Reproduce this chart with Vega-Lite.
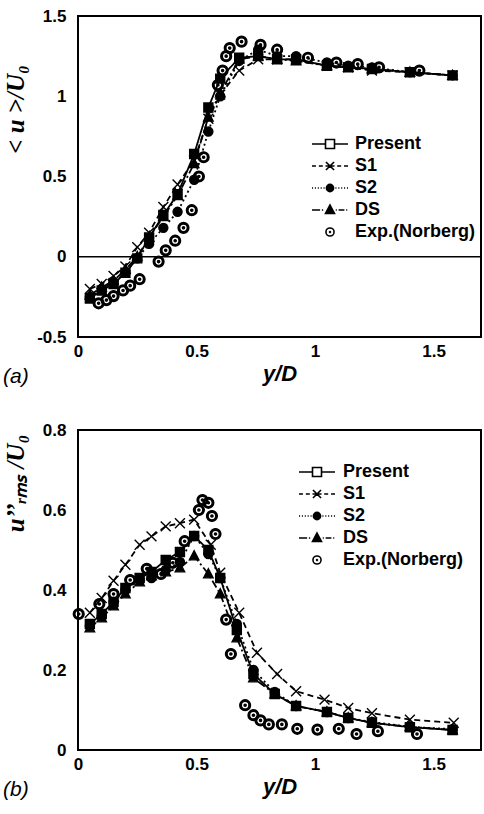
{
  "$schema": "https://vega.github.io/schema/vega-lite/v6.json",
  "background": "white",
  "padding": {"left": 2, "top": 6, "right": 0, "bottom": 0},
  "spacing": 32,
  "datasets": {
    "xt": [
      {"v":0.1,"k":"minor"},{"v":0.2,"k":"minor"},{"v":0.3,"k":"minor"},{"v":0.4,"k":"minor"},{"v":0.5,"k":"major"},{"v":0.6,"k":"minor"},{"v":0.7,"k":"minor"},{"v":0.8,"k":"minor"},{"v":0.9,"k":"minor"},{"v":1.0,"k":"major"},{"v":1.1,"k":"minor"},{"v":1.2,"k":"minor"},{"v":1.3,"k":"minor"},{"v":1.4,"k":"minor"},{"v":1.5,"k":"major"},{"v":1.6,"k":"minor"}
    ],
    "yta": [
      {"v":-0.4,"k":"minor"},{"v":-0.3,"k":"minor"},{"v":-0.2,"k":"minor"},{"v":-0.1,"k":"minor"},{"v":0.0,"k":"major"},{"v":0.1,"k":"minor"},{"v":0.2,"k":"minor"},{"v":0.3,"k":"minor"},{"v":0.4,"k":"minor"},{"v":0.5,"k":"major"},{"v":0.6,"k":"minor"},{"v":0.7,"k":"minor"},{"v":0.8,"k":"minor"},{"v":0.9,"k":"minor"},{"v":1.0,"k":"major"},{"v":1.1,"k":"minor"},{"v":1.2,"k":"minor"},{"v":1.3,"k":"minor"},{"v":1.4,"k":"minor"}
    ],
    "ytb": [
      {"v":0.05,"k":"minor"},{"v":0.1,"k":"minor"},{"v":0.15,"k":"minor"},{"v":0.2,"k":"major"},{"v":0.25,"k":"minor"},{"v":0.3,"k":"minor"},{"v":0.35,"k":"minor"},{"v":0.4,"k":"major"},{"v":0.45,"k":"minor"},{"v":0.5,"k":"minor"},{"v":0.55,"k":"minor"},{"v":0.6,"k":"major"},{"v":0.65,"k":"minor"},{"v":0.7,"k":"minor"},{"v":0.75,"k":"minor"}
    ],
    "mean": [
      {"s":"Present","x":0.05,"y":-0.26},{"s":"Present","x":0.10,"y":-0.21},{"s":"Present","x":0.15,"y":-0.17},{"s":"Present","x":0.20,"y":-0.10},{"s":"Present","x":0.25,"y":-0.01},{"s":"Present","x":0.30,"y":0.12},{"s":"Present","x":0.36,"y":0.26},{"s":"Present","x":0.42,"y":0.39},{"s":"Present","x":0.49,"y":0.64},{"s":"Present","x":0.55,"y":0.93},{"s":"Present","x":0.60,"y":1.11},{"s":"Present","x":0.68,"y":1.24},{"s":"Present","x":0.76,"y":1.25},{"s":"Present","x":0.84,"y":1.23},{"s":"Present","x":0.92,"y":1.23},{"s":"Present","x":1.05,"y":1.19},{"s":"Present","x":1.14,"y":1.18},{"s":"Present","x":1.24,"y":1.17},{"s":"Present","x":1.40,"y":1.15},{"s":"Present","x":1.58,"y":1.13},
      {"s":"S1","x":0.05,"y":-0.20},{"s":"S1","x":0.10,"y":-0.17},{"s":"S1","x":0.15,"y":-0.12},{"s":"S1","x":0.20,"y":-0.06},{"s":"S1","x":0.25,"y":0.06},{"s":"S1","x":0.30,"y":0.15},{"s":"S1","x":0.36,"y":0.31},{"s":"S1","x":0.42,"y":0.45},{"s":"S1","x":0.49,"y":0.60},{"s":"S1","x":0.55,"y":0.86},{"s":"S1","x":0.60,"y":1.01},{"s":"S1","x":0.68,"y":1.16},{"s":"S1","x":0.76,"y":1.23},{"s":"S1","x":0.84,"y":1.23},{"s":"S1","x":0.92,"y":1.23},{"s":"S1","x":1.05,"y":1.19},{"s":"S1","x":1.14,"y":1.18},{"s":"S1","x":1.24,"y":1.16},{"s":"S1","x":1.40,"y":1.15},{"s":"S1","x":1.58,"y":1.13},
      {"s":"S2","x":0.05,"y":-0.25},{"s":"S2","x":0.10,"y":-0.20},{"s":"S2","x":0.15,"y":-0.16},{"s":"S2","x":0.20,"y":-0.10},{"s":"S2","x":0.25,"y":-0.01},{"s":"S2","x":0.30,"y":0.08},{"s":"S2","x":0.36,"y":0.18},{"s":"S2","x":0.42,"y":0.28},{"s":"S2","x":0.49,"y":0.48},{"s":"S2","x":0.55,"y":0.78},{"s":"S2","x":0.60,"y":1.00},{"s":"S2","x":0.68,"y":1.22},{"s":"S2","x":0.76,"y":1.29},{"s":"S2","x":0.84,"y":1.25},{"s":"S2","x":0.92,"y":1.25},{"s":"S2","x":1.05,"y":1.21},{"s":"S2","x":1.14,"y":1.19},{"s":"S2","x":1.24,"y":1.18},{"s":"S2","x":1.40,"y":1.15},{"s":"S2","x":1.58,"y":1.13},
      {"s":"DS","x":0.05,"y":-0.24},{"s":"DS","x":0.10,"y":-0.19},{"s":"DS","x":0.15,"y":-0.15},{"s":"DS","x":0.20,"y":-0.08},{"s":"DS","x":0.25,"y":0.00},{"s":"DS","x":0.30,"y":0.12},{"s":"DS","x":0.36,"y":0.25},{"s":"DS","x":0.42,"y":0.38},{"s":"DS","x":0.49,"y":0.58},{"s":"DS","x":0.55,"y":0.87},{"s":"DS","x":0.60,"y":1.02},{"s":"DS","x":0.68,"y":1.23},{"s":"DS","x":0.76,"y":1.25},{"s":"DS","x":0.84,"y":1.23},{"s":"DS","x":0.92,"y":1.22},{"s":"DS","x":1.05,"y":1.19},{"s":"DS","x":1.14,"y":1.18},{"s":"DS","x":1.24,"y":1.17},{"s":"DS","x":1.40,"y":1.15},{"s":"DS","x":1.58,"y":1.13},
      {"s":"Exp.(Norberg)","x":0.087,"y":-0.29},{"s":"Exp.(Norberg)","x":0.12,"y":-0.27},{"s":"Exp.(Norberg)","x":0.15,"y":-0.245},{"s":"Exp.(Norberg)","x":0.19,"y":-0.21},{"s":"Exp.(Norberg)","x":0.22,"y":-0.18},{"s":"Exp.(Norberg)","x":0.26,"y":-0.14},{"s":"Exp.(Norberg)","x":0.34,"y":-0.03},{"s":"Exp.(Norberg)","x":0.37,"y":0.04},{"s":"Exp.(Norberg)","x":0.41,"y":0.10},{"s":"Exp.(Norberg)","x":0.445,"y":0.18},{"s":"Exp.(Norberg)","x":0.48,"y":0.29},{"s":"Exp.(Norberg)","x":0.51,"y":0.50},{"s":"Exp.(Norberg)","x":0.53,"y":0.62},{"s":"Exp.(Norberg)","x":0.59,"y":1.07},{"s":"Exp.(Norberg)","x":0.61,"y":1.16},{"s":"Exp.(Norberg)","x":0.625,"y":1.25},{"s":"Exp.(Norberg)","x":0.64,"y":1.30},{"s":"Exp.(Norberg)","x":0.69,"y":1.34},{"s":"Exp.(Norberg)","x":0.77,"y":1.32},{"s":"Exp.(Norberg)","x":0.84,"y":1.29},{"s":"Exp.(Norberg)","x":0.97,"y":1.24},{"s":"Exp.(Norberg)","x":1.09,"y":1.21},{"s":"Exp.(Norberg)","x":1.18,"y":1.20},{"s":"Exp.(Norberg)","x":1.27,"y":1.18},{"s":"Exp.(Norberg)","x":1.44,"y":1.16}
    ],
    "rms": [
      {"s":"Present","x":0.05,"y":0.315},{"s":"Present","x":0.10,"y":0.34},{"s":"Present","x":0.15,"y":0.37},{"s":"Present","x":0.20,"y":0.405},{"s":"Present","x":0.26,"y":0.43},{"s":"Present","x":0.31,"y":0.445},{"s":"Present","x":0.37,"y":0.475},{"s":"Present","x":0.43,"y":0.495},{"s":"Present","x":0.49,"y":0.535},{"s":"Present","x":0.55,"y":0.50},{"s":"Present","x":0.60,"y":0.43},{"s":"Present","x":0.67,"y":0.30},{"s":"Present","x":0.74,"y":0.19},{"s":"Present","x":0.83,"y":0.14},{"s":"Present","x":0.92,"y":0.11},{"s":"Present","x":1.05,"y":0.095},{"s":"Present","x":1.14,"y":0.08},{"s":"Present","x":1.24,"y":0.068},{"s":"Present","x":1.40,"y":0.057},{"s":"Present","x":1.58,"y":0.05},
      {"s":"S1","x":0.05,"y":0.343},{"s":"S1","x":0.10,"y":0.38},{"s":"S1","x":0.15,"y":0.423},{"s":"S1","x":0.20,"y":0.463},{"s":"S1","x":0.26,"y":0.513},{"s":"S1","x":0.31,"y":0.534},{"s":"S1","x":0.37,"y":0.559},{"s":"S1","x":0.43,"y":0.567},{"s":"S1","x":0.49,"y":0.576},{"s":"S1","x":0.56,"y":0.513},{"s":"S1","x":0.60,"y":0.443},{"s":"S1","x":0.68,"y":0.343},{"s":"S1","x":0.755,"y":0.243},{"s":"S1","x":0.84,"y":0.19},{"s":"S1","x":0.92,"y":0.147},{"s":"S1","x":1.04,"y":0.126},{"s":"S1","x":1.14,"y":0.105},{"s":"S1","x":1.24,"y":0.092},{"s":"S1","x":1.40,"y":0.076},{"s":"S1","x":1.585,"y":0.068},
      {"s":"S2","x":0.05,"y":0.31},{"s":"S2","x":0.10,"y":0.335},{"s":"S2","x":0.15,"y":0.37},{"s":"S2","x":0.20,"y":0.40},{"s":"S2","x":0.26,"y":0.425},{"s":"S2","x":0.31,"y":0.43},{"s":"S2","x":0.37,"y":0.45},{"s":"S2","x":0.43,"y":0.47},{"s":"S2","x":0.49,"y":0.535},{"s":"S2","x":0.55,"y":0.49},{"s":"S2","x":0.60,"y":0.43},{"s":"S2","x":0.67,"y":0.315},{"s":"S2","x":0.74,"y":0.20},{"s":"S2","x":0.83,"y":0.145},{"s":"S2","x":0.92,"y":0.11},{"s":"S2","x":1.05,"y":0.095},{"s":"S2","x":1.14,"y":0.08},{"s":"S2","x":1.24,"y":0.07},{"s":"S2","x":1.40,"y":0.058},{"s":"S2","x":1.58,"y":0.052},
      {"s":"DS","x":0.05,"y":0.305},{"s":"DS","x":0.10,"y":0.33},{"s":"DS","x":0.15,"y":0.36},{"s":"DS","x":0.20,"y":0.39},{"s":"DS","x":0.26,"y":0.42},{"s":"DS","x":0.31,"y":0.435},{"s":"DS","x":0.37,"y":0.445},{"s":"DS","x":0.43,"y":0.455},{"s":"DS","x":0.49,"y":0.485},{"s":"DS","x":0.55,"y":0.44},{"s":"DS","x":0.60,"y":0.39},{"s":"DS","x":0.67,"y":0.28},{"s":"DS","x":0.74,"y":0.18},{"s":"DS","x":0.83,"y":0.14},{"s":"DS","x":0.92,"y":0.11},{"s":"DS","x":1.05,"y":0.095},{"s":"DS","x":1.14,"y":0.08},{"s":"DS","x":1.24,"y":0.068},{"s":"DS","x":1.40,"y":0.058},{"s":"DS","x":1.58,"y":0.05},
      {"s":"Exp.(Norberg)","x":0.003,"y":0.34},{"s":"Exp.(Norberg)","x":0.09,"y":0.365},{"s":"Exp.(Norberg)","x":0.15,"y":0.39},{"s":"Exp.(Norberg)","x":0.22,"y":0.425},{"s":"Exp.(Norberg)","x":0.29,"y":0.453},{"s":"Exp.(Norberg)","x":0.35,"y":0.44},{"s":"Exp.(Norberg)","x":0.40,"y":0.468},{"s":"Exp.(Norberg)","x":0.45,"y":0.522},{"s":"Exp.(Norberg)","x":0.51,"y":0.60},{"s":"Exp.(Norberg)","x":0.525,"y":0.625},{"s":"Exp.(Norberg)","x":0.55,"y":0.618},{"s":"Exp.(Norberg)","x":0.565,"y":0.585},{"s":"Exp.(Norberg)","x":0.58,"y":0.54},{"s":"Exp.(Norberg)","x":0.625,"y":0.326},{"s":"Exp.(Norberg)","x":0.645,"y":0.24},{"s":"Exp.(Norberg)","x":0.705,"y":0.112},{"s":"Exp.(Norberg)","x":0.74,"y":0.087},{"s":"Exp.(Norberg)","x":0.77,"y":0.074},{"s":"Exp.(Norberg)","x":0.805,"y":0.064},{"s":"Exp.(Norberg)","x":0.86,"y":0.064},{"s":"Exp.(Norberg)","x":0.925,"y":0.053},{"s":"Exp.(Norberg)","x":1.01,"y":0.051},{"s":"Exp.(Norberg)","x":1.10,"y":0.053},{"s":"Exp.(Norberg)","x":1.175,"y":0.04},{"s":"Exp.(Norberg)","x":1.265,"y":0.047},{"s":"Exp.(Norberg)","x":1.43,"y":0.04}
    ]
  },
  "vconcat": [
    {
      "width": 403,
      "height": 321,
      "data": {"name": "mean"},
      "title": {"text": "(a)", "orient": "bottom", "anchor": "start", "frame": "bounds", "offset": -18, "fontSize": 21, "fontWeight": "normal", "fontStyle": "italic", "font": "Liberation Sans", "color": "black"},
      "layer": [
        {
          "data": {"values": [{"y": 0}]},
          "mark": {"type": "rule", "color": "black", "strokeWidth": 1.3},
          "encoding": {"y": {"field": "y", "type": "quantitative", "axis": null}}
        },
        {
          "data": {"name": "xt"},
          "mark": {"type": "tick", "orient": "horizontal", "clip": true, "color": "black", "thickness": 1.5, "opacity": 1},
          "encoding": {
            "x": {"field": "v", "type": "quantitative", "axis": null},
            "y": {"datum": -0.5, "type": "quantitative", "axis": null},
            "size": {"field": "k", "type": "nominal", "scale": {"domain": ["major", "minor"], "range": [18, 10]}, "legend": null}
          }
        },
        {
          "data": {"name": "xt"},
          "mark": {"type": "tick", "orient": "horizontal", "clip": true, "color": "black", "thickness": 1.5, "opacity": 1},
          "encoding": {
            "x": {"field": "v", "type": "quantitative", "axis": null},
            "y": {"datum": 1.5, "type": "quantitative", "axis": null},
            "size": {"field": "k", "type": "nominal", "scale": {"domain": ["major", "minor"], "range": [18, 10]}, "legend": null}
          }
        },
        {
          "data": {"name": "yta"},
          "mark": {"type": "tick", "orient": "vertical", "clip": true, "color": "black", "thickness": 1.5, "opacity": 1},
          "encoding": {
            "y": {"field": "v", "type": "quantitative", "axis": null},
            "x": {"datum": 0, "type": "quantitative", "axis": null},
            "size": {"field": "k", "type": "nominal", "scale": {"domain": ["major", "minor"], "range": [18, 10]}, "legend": null}
          }
        },
        {
          "data": {"name": "yta"},
          "mark": {"type": "tick", "orient": "vertical", "clip": true, "color": "black", "thickness": 1.5, "opacity": 1},
          "encoding": {
            "y": {"field": "v", "type": "quantitative", "axis": null},
            "x": {"datum": 1.7, "type": "quantitative", "axis": null},
            "size": {"field": "k", "type": "nominal", "scale": {"domain": ["major", "minor"], "range": [18, 10]}, "legend": null}
          }
        },
        {
          "transform": [{"filter": "datum.s !== 'Exp.(Norberg)'"}],
          "mark": {"type": "line", "color": "black", "strokeWidth": 1.8},
          "encoding": {
            "x": {"field": "x", "type": "quantitative", "scale": {"domain": [0, 1.7], "nice": false, "zero": false},
              "axis": {"orient": "bottom", "values": [0, 0.5, 1, 1.5], "format": ".1~f", "ticks": false, "tickSize": 0,
                "labelPadding": 6, "title": "y/D", "titleFont": "Liberation Sans", "titleFontStyle": "italic", "titleFontWeight": "bold", "titleFontSize": 22, "titlePadding": 4}},
            "y": {"field": "y", "type": "quantitative", "scale": {"domain": [-0.5, 1.5], "nice": false, "zero": false},
              "axis": {"orient": "left", "values": [-0.5, 0, 0.5, 1, 1.5], "ticks": false, "tickSize": 0,
                "labelExpr": "(datum.value<0?'-':'') + format(abs(datum.value),'.1~f')",
                "labelPadding": 12, "title": "< u >/U₀", "titleFont": "Liberation Serif", "titleFontStyle": "italic", "titleFontWeight": "bold", "titleFontSize": 25, "titleAngle": -90, "titleX": -63, "titleY": 93, "titleAlign": "center", "titleBaseline": "middle"}},
            "strokeDash": {"field": "s", "type": "nominal", "scale": {"domain": ["Present","S1","S2","DS"], "range": [[1,0],[6,4],[2,3],[8,3,2,3]]}, "legend": null}
          }
        },
        {
          "mark": {"type": "point", "filled": true, "fill": "black", "stroke": "black", "strokeWidth": 1.4, "opacity": 1, "size": 81},
          "encoding": {
            "x": {"field": "x", "type": "quantitative", "axis": null},
            "y": {"field": "y", "type": "quantitative", "axis": null},
            "shape": {"field": "s", "type": "nominal", "legend": null,
              "scale": {"domain": ["Present","S1","S2","DS","Exp.(Norberg)"],
                "range": ["M-1,-1H1V1H-1Z", "M-1.1,-1.1L1.1,1.1M-1.1,1.1L1.1,-1.1", "circle", "M0,-1.15L1.05,0.85H-1.05Z", "M-1.2,0A1.2,1.2,0,1,1,1.2,0A1.2,1.2,0,1,1,-1.2,0ZM-0.85,0A0.85,0.85,0,1,0,0.85,0A0.85,0.85,0,1,0,-0.85,0ZM-0.25,0A0.25,0.25,0,1,1,0.25,0A0.25,0.25,0,1,1,-0.25,0Z"]}}
          }
        },
        {
          "transform": [{"filter": "datum.x > 99"}],
          "mark": {"type": "point", "filled": false, "color": "black", "strokeWidth": 1.6, "opacity": 1, "size": 324},
          "encoding": {
            "x": {"field": "x", "type": "quantitative", "axis": null},
            "y": {"field": "y", "type": "quantitative", "axis": null},
            "shape": {"field": "s", "type": "nominal",
              "scale": {"domain": ["Present","S1","S2","DS","Exp.(Norberg)"],
                "range": [
                  "M-2,0H-0.5M0.5,0H2M-0.5,-0.5H0.5V0.5H-0.5Z",
                  "M-2,0H-1.56M-1.24,0H-0.8M0.8,0H1.24M1.56,0H2M-0.45,-0.45L0.45,0.45M-0.45,0.45L0.45,-0.45M-0.5,0H0.5",
                  "M-2,0H-1.88M-1.68,0H-1.56M-1.36,0H-1.24M-1.04,0H-0.92M-0.72,0H-0.6M0.6,0H0.72M0.92,0H1.04M1.24,0H1.36M1.56,0H1.68M1.88,0H2M-0.4,0A0.4,0.4,0,1,1,0.4,0A0.4,0.4,0,1,1,-0.4,0ZM-0.24,0A0.24,0.24,0,1,1,0.24,0A0.24,0.24,0,1,1,-0.24,0ZM-0.09,0A0.09,0.09,0,1,1,0.09,0A0.09,0.09,0,1,1,-0.09,0Z",
                  "M-2,0H-1.1M-0.9,0H-0.76M0.64,0H0.76M0.96,0H1.6M1.8,0H1.92M0,-0.55L0.5,0.38H-0.5ZM0,-0.3L0.28,0.22H-0.28ZM0,-0.05L0.07,0.08H-0.07Z",
                  "M-0.45,0A0.45,0.45,0,1,1,0.45,0A0.45,0.45,0,1,1,-0.45,0ZM-0.05,0A0.05,0.05,0,1,1,0.05,0A0.05,0.05,0,1,1,-0.05,0Z"
                ]},
              "legend": {"orient": "none", "legendX": 242, "legendY": 118, "title": null, "symbolSize": 324, "symbolStrokeWidth": 1.6, "symbolStrokeColor": "black", "symbolOpacity": 1, "labelFontSize": 18, "labelFontWeight": "bold", "labelFont": "Liberation Sans", "labelColor": "black", "labelOffset": 15, "rowPadding": 3}}
          }
        }
      ],
      "resolve": {"axis": {"x": "independent", "y": "independent"}, "scale": {"shape": "independent"}}
    },
    {
      "width": 403,
      "height": 320,
      "data": {"name": "rms"},
      "title": {"text": "(b)", "orient": "bottom", "anchor": "start", "frame": "bounds", "offset": -18, "fontSize": 21, "fontWeight": "normal", "fontStyle": "italic", "font": "Liberation Sans", "color": "black"},
      "layer": [
        {
          "data": {"name": "xt"},
          "mark": {"type": "tick", "orient": "horizontal", "clip": true, "color": "black", "thickness": 1.5, "opacity": 1},
          "encoding": {
            "x": {"field": "v", "type": "quantitative", "axis": null},
            "y": {"datum": 0, "type": "quantitative", "axis": null},
            "size": {"field": "k", "type": "nominal", "scale": {"domain": ["major", "minor"], "range": [18, 10]}, "legend": null}
          }
        },
        {
          "data": {"name": "xt"},
          "mark": {"type": "tick", "orient": "horizontal", "clip": true, "color": "black", "thickness": 1.5, "opacity": 1},
          "encoding": {
            "x": {"field": "v", "type": "quantitative", "axis": null},
            "y": {"datum": 0.8, "type": "quantitative", "axis": null},
            "size": {"field": "k", "type": "nominal", "scale": {"domain": ["major", "minor"], "range": [18, 10]}, "legend": null}
          }
        },
        {
          "data": {"name": "ytb"},
          "mark": {"type": "tick", "orient": "vertical", "clip": true, "color": "black", "thickness": 1.5, "opacity": 1},
          "encoding": {
            "y": {"field": "v", "type": "quantitative", "axis": null},
            "x": {"datum": 0, "type": "quantitative", "axis": null},
            "size": {"field": "k", "type": "nominal", "scale": {"domain": ["major", "minor"], "range": [18, 10]}, "legend": null}
          }
        },
        {
          "data": {"name": "ytb"},
          "mark": {"type": "tick", "orient": "vertical", "clip": true, "color": "black", "thickness": 1.5, "opacity": 1},
          "encoding": {
            "y": {"field": "v", "type": "quantitative", "axis": null},
            "x": {"datum": 1.7, "type": "quantitative", "axis": null},
            "size": {"field": "k", "type": "nominal", "scale": {"domain": ["major", "minor"], "range": [18, 10]}, "legend": null}
          }
        },
        {
          "transform": [{"filter": "datum.s !== 'Exp.(Norberg)'"}],
          "mark": {"type": "line", "color": "black", "strokeWidth": 1.8},
          "encoding": {
            "x": {"field": "x", "type": "quantitative", "scale": {"domain": [0, 1.7], "nice": false, "zero": false},
              "axis": {"orient": "bottom", "values": [0, 0.5, 1, 1.5], "format": ".1~f", "ticks": false, "tickSize": 0,
                "labelPadding": 6, "title": "y/D", "titleFont": "Liberation Sans", "titleFontStyle": "italic", "titleFontWeight": "bold", "titleFontSize": 22, "titlePadding": 4}},
            "y": {"field": "y", "type": "quantitative", "scale": {"domain": [0, 0.8], "nice": false, "zero": false},
              "axis": {"orient": "left", "values": [0, 0.2, 0.4, 0.6, 0.8], "format": ".1~f", "ticks": false, "tickSize": 0,
                "labelPadding": 12, "title": "u’’ᵣₘₛ /U₀", "titleFont": "Liberation Serif", "titleFontStyle": "italic", "titleFontWeight": "bold", "titleFontSize": 25, "titleAngle": -90, "titleX": -63, "titleY": 53, "titleAlign": "center", "titleBaseline": "middle"}},
            "strokeDash": {"field": "s", "type": "nominal", "scale": {"domain": ["Present","S1","S2","DS"], "range": [[1,0],[6,4],[2,3],[8,3,2,3]]}, "legend": null}
          }
        },
        {
          "mark": {"type": "point", "filled": true, "fill": "black", "stroke": "black", "strokeWidth": 1.4, "opacity": 1, "size": 81},
          "encoding": {
            "x": {"field": "x", "type": "quantitative", "axis": null},
            "y": {"field": "y", "type": "quantitative", "axis": null},
            "shape": {"field": "s", "type": "nominal", "legend": null,
              "scale": {"domain": ["Present","S1","S2","DS","Exp.(Norberg)"],
                "range": ["M-1,-1H1V1H-1Z", "M-1.1,-1.1L1.1,1.1M-1.1,1.1L1.1,-1.1", "circle", "M0,-1.15L1.05,0.85H-1.05Z", "M-1.2,0A1.2,1.2,0,1,1,1.2,0A1.2,1.2,0,1,1,-1.2,0ZM-0.85,0A0.85,0.85,0,1,0,0.85,0A0.85,0.85,0,1,0,-0.85,0ZM-0.25,0A0.25,0.25,0,1,1,0.25,0A0.25,0.25,0,1,1,-0.25,0Z"]}}
          }
        },
        {
          "transform": [{"filter": "datum.x > 99"}],
          "mark": {"type": "point", "filled": false, "color": "black", "strokeWidth": 1.6, "opacity": 1, "size": 324},
          "encoding": {
            "x": {"field": "x", "type": "quantitative", "axis": null},
            "y": {"field": "y", "type": "quantitative", "axis": null},
            "shape": {"field": "s", "type": "nominal",
              "scale": {"domain": ["Present","S1","S2","DS","Exp.(Norberg)"],
                "range": [
                  "M-2,0H-0.5M0.5,0H2M-0.5,-0.5H0.5V0.5H-0.5Z",
                  "M-2,0H-1.56M-1.24,0H-0.8M0.8,0H1.24M1.56,0H2M-0.45,-0.45L0.45,0.45M-0.45,0.45L0.45,-0.45M-0.5,0H0.5",
                  "M-2,0H-1.88M-1.68,0H-1.56M-1.36,0H-1.24M-1.04,0H-0.92M-0.72,0H-0.6M0.6,0H0.72M0.92,0H1.04M1.24,0H1.36M1.56,0H1.68M1.88,0H2M-0.4,0A0.4,0.4,0,1,1,0.4,0A0.4,0.4,0,1,1,-0.4,0ZM-0.24,0A0.24,0.24,0,1,1,0.24,0A0.24,0.24,0,1,1,-0.24,0ZM-0.09,0A0.09,0.09,0,1,1,0.09,0A0.09,0.09,0,1,1,-0.09,0Z",
                  "M-2,0H-1.1M-0.9,0H-0.76M0.64,0H0.76M0.96,0H1.6M1.8,0H1.92M0,-0.55L0.5,0.38H-0.5ZM0,-0.3L0.28,0.22H-0.28ZM0,-0.05L0.07,0.08H-0.07Z",
                  "M-0.45,0A0.45,0.45,0,1,1,0.45,0A0.45,0.45,0,1,1,-0.45,0ZM-0.05,0A0.05,0.05,0,1,1,0.05,0A0.05,0.05,0,1,1,-0.05,0Z"
                ]},
              "legend": {"orient": "none", "legendX": 229, "legendY": 32, "title": null, "symbolSize": 324, "symbolStrokeWidth": 1.6, "symbolStrokeColor": "black", "symbolOpacity": 1, "labelFontSize": 18, "labelFontWeight": "bold", "labelFont": "Liberation Sans", "labelColor": "black", "labelOffset": 16, "rowPadding": 3}}
          }
        }
      ],
      "resolve": {"axis": {"x": "independent", "y": "independent"}, "scale": {"shape": "independent"}}
    }
  ],
  "config": {
    "view": {"stroke": "black", "strokeWidth": 2},
    "axis": {"domain": false, "grid": false, "labelColor": "black", "labelFont": "Liberation Sans", "labelFontSize": 17, "labelFontWeight": "bold", "labelFlush": false, "labelOverlap": false, "titleColor": "black"}
  }
}
